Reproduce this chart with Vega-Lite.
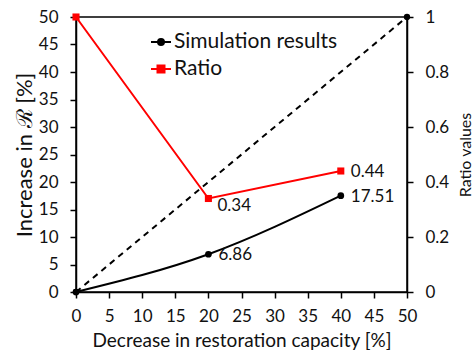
{
  "$schema": "https://vega.github.io/schema/vega-lite/v6.json",
  "width": 331,
  "height": 275,
  "autosize": {"type": "none"},
  "padding": {"left": 76, "top": 17, "right": 67, "bottom": 58},
  "background": "white",
  "config": {
    "font": "Lato",
    "view": {"stroke": "black", "strokeWidth": 1.5},
    "axis": {
      "grid": false,
      "domainColor": "black",
      "domainWidth": 1.5,
      "tickColor": "black",
      "tickWidth": 1.5,
      "tickSize": 6,
      "labelColor": "#111",
      "titleColor": "#111",
      "labelFont": "Lato",
      "titleFont": "Lato",
      "labelFontSize": 17,
      "titleFontWeight": "normal",
      "labelFlush": false
    }
  },
  "datasets": {
    "sim": [
      {"x": 0, "y": 0, "series": "Simulation results"},
      {"x": 20, "y": 6.86, "series": "Simulation results", "label": "6.86"},
      {"x": 40, "y": 17.51, "series": "Simulation results", "label": "17.51"}
    ],
    "ratio": [
      {"x": 0, "y": 1, "series": "Ratio"},
      {"x": 20, "y": 0.34, "series": "Ratio", "label": "0.34"},
      {"x": 40, "y": 0.44, "series": "Ratio", "label": "0.44"}
    ],
    "ref": [
      {"x": 0, "y": 0},
      {"x": 50, "y": 50}
    ]
  },
  "encoding": {
    "x": {
      "field": "x",
      "type": "quantitative",
      "scale": {"domain": [0, 50]},
      "axis": {
        "values": [0, 5, 10, 15, 20, 25, 30, 35, 40, 45, 50],
        "title": "Decrease in restoration capacity [%]",
        "titleFontSize": 19,
        "labelPadding": 10,
        "titlePadding": 7
      }
    }
  },
  "layer": [
    {
      "encoding": {
        "y": {
          "field": "y",
          "type": "quantitative",
          "scale": {"domain": [0, 50]},
          "axis": {
            "values": [0, 5, 10, 15, 20, 25, 30, 35, 40, 45, 50],
            "title": "Increase in ℛ [%]",
            "titleFontSize": 22,
            "labelPadding": 12,
            "titlePadding": 2
          }
        }
      },
      "layer": [
        {
          "data": {"name": "ref"},
          "mark": {"type": "line", "color": "black", "strokeDash": [6, 5], "strokeWidth": 2},
          "encoding": {}
        },
        {
          "data": {"name": "ref"},
          "mark": {"type": "point", "filled": true, "shape": "circle", "size": 40, "color": "black", "opacity": 1},
          "encoding": {}
        },
        {
          "data": {"name": "sim"},
          "mark": {"type": "line", "interpolate": "monotone", "strokeWidth": 2},
          "encoding": {
            "color": {
              "field": "series",
              "type": "nominal",
              "scale": {"domain": ["Simulation results", "Ratio"], "range": ["black", "red"]},
              "legend": {
                "orient": "none",
                "legendX": 74,
                "legendY": 14,
                "title": null,
                "padding": 0,
                "symbolSize": 400,
                "symbolStrokeWidth": 2,
                "labelFontSize": 21,
                "labelFont": "Lato",
                "labelColor": "#111",
                "labelOffset": 2,
                "labelLimit": 400,
                "rowPadding": 6,
                "encode": {
                  "symbols": {
                    "update": {
                      "shape": {"signal": "datum.value === 'Ratio' ? 'M-1,0H1M-0.35,-0.35H0.35V0.35H-0.35Z' : 'M-1,0H1M-0.3,0A0.3,0.3 0 1,0 0.3,0A0.3,0.3 0 1,0 -0.3,0Z'"},
                      "fill": {"signal": "datum.value === 'Ratio' ? 'red' : 'black'"},
                      "stroke": {"signal": "datum.value === 'Ratio' ? 'red' : 'black'"},
                      "opacity": {"value": 1},
                      "fillOpacity": {"value": 1},
                      "strokeOpacity": {"value": 1}
                    }
                  }
                }
              }
            }
          }
        },
        {
          "data": {"name": "sim"},
          "mark": {"type": "point", "filled": true, "shape": "circle", "size": 45, "opacity": 1},
          "encoding": {"color": {"field": "series", "type": "nominal"}}
        },
        {
          "data": {"name": "sim"},
          "transform": [{"filter": "datum.label != null"}],
          "mark": {"type": "text", "align": "left", "dx": 10, "dy": 1, "fontSize": 17, "color": "#111"},
          "encoding": {"text": {"field": "label"}}
        }
      ]
    },
    {
      "encoding": {
        "y": {
          "field": "y",
          "type": "quantitative",
          "scale": {"domain": [0, 1]},
          "axis": {
            "orient": "right",
            "values": [0, 0.2, 0.4, 0.6, 0.8, 1],
            "format": "~g",
            "title": "Ratio values",
            "titleFontSize": 16,
            "titleAngle": 270,
            "titleBaseline": "top",
            "labelPadding": 12,
            "titlePadding": 9
          }
        }
      },
      "layer": [
        {
          "data": {"name": "ratio"},
          "mark": {"type": "line", "strokeWidth": 2},
          "encoding": {"color": {"field": "series", "type": "nominal"}}
        },
        {
          "data": {"name": "ratio"},
          "mark": {"type": "point", "filled": true, "shape": "square", "size": 50, "opacity": 1},
          "encoding": {"color": {"field": "series", "type": "nominal"}}
        },
        {
          "data": {"name": "ratio"},
          "transform": [{"filter": "datum.x == 20"}],
          "mark": {"type": "text", "align": "left", "dx": 9, "dy": 7, "fontSize": 17, "color": "#111"},
          "encoding": {"text": {"field": "label"}}
        },
        {
          "data": {"name": "ratio"},
          "transform": [{"filter": "datum.x == 40"}],
          "mark": {"type": "text", "align": "left", "dx": 10, "dy": 1, "fontSize": 17, "color": "#111"},
          "encoding": {"text": {"field": "label"}}
        }
      ]
    }
  ],
  "resolve": {"scale": {"y": "independent"}}
}
